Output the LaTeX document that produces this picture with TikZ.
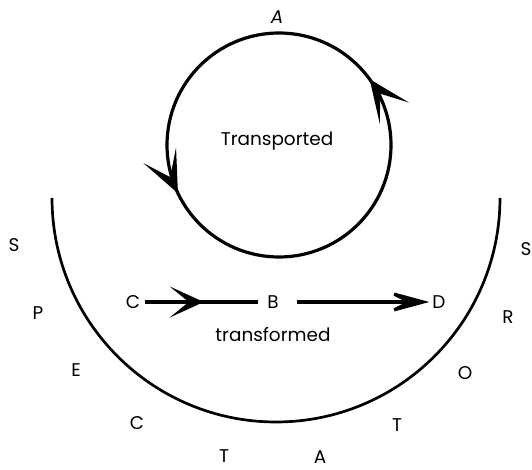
\documentclass[tikz,border=0pt]{standalone}
\usepackage{fontspec}
\setmainfont{Poppins}
\usetikzlibrary{arrows.meta,decorations.markings}
\tikzset{
  bigtip/.tip={Stealth[length=42bp,width=36bp,inset=24bp]},
  midtip/.tip={Stealth[length=34bp,width=31bp,inset=19bp]},
  longtip/.tip={Stealth[length=50bp,width=27bp,inset=27bp]},
}
\begin{document}
\begin{tikzpicture}[x=1bp,y=1bp,
  lbl/.style={font=\fontsize{18.5}{22}\selectfont, inner sep=1bp},
  thickline/.style={line width=3.2bp},
]
\useasboundingbox (0,0) rectangle (532,470);
% small circle
\coordinate (O1) at (279,325);
\draw[thickline,
  decoration={markings,
    mark=at position 0.1 with {\arrow{bigtip}},
    mark=at position 0.571 with {\arrow{bigtip}}},
  postaction=decorate] (O1) circle[radius=112];
\node[lbl, font=\fontsize{18.5}{22}\selectfont\itshape] (Atop) at (277,453) {A};
\node[lbl] (trans) at (277,329) {Transported};
% big arc
\coordinate (O2) at (276,272);
\draw[line width=2.7bp] ([xshift=-224bp]O2) arc[start angle=180, end angle=360, radius=224];
% outer letters
\node[lbl] (l1) at (14,225) {S};
\node[lbl] (l2) at (38,157) {P};
\node[lbl] (l3) at (76,100) {E};
\node[lbl] (l4) at (137,47) {C};
\node[lbl] (l5) at (224,14) {T};
\node[lbl] (l6) at (320,13) {A};
\node[lbl] (l7) at (397,45) {T};
\node[lbl] (l8) at (465,97) {O};
\node[lbl] (l9) at (508,153) {R};
\node[lbl] (l10) at (526,221) {S};
% middle row
\node[lbl] (C) at (133,168) {C};
\node[lbl] (B) at (273,168) {B};
\node[lbl] (D) at (439,168) {D};
\node[lbl] (tf) at (273,135) {transformed};
\draw[thickline, shorten <=4bp, shorten >=8bp,
  decoration={markings, mark=at position 0.5 with {\arrow{midtip}}},
  postaction=decorate] (C) -- (B);
\draw[thickline, shorten <=17bp, shorten >=2bp, -longtip] (B) -- (D);
\end{tikzpicture}
\end{document}
